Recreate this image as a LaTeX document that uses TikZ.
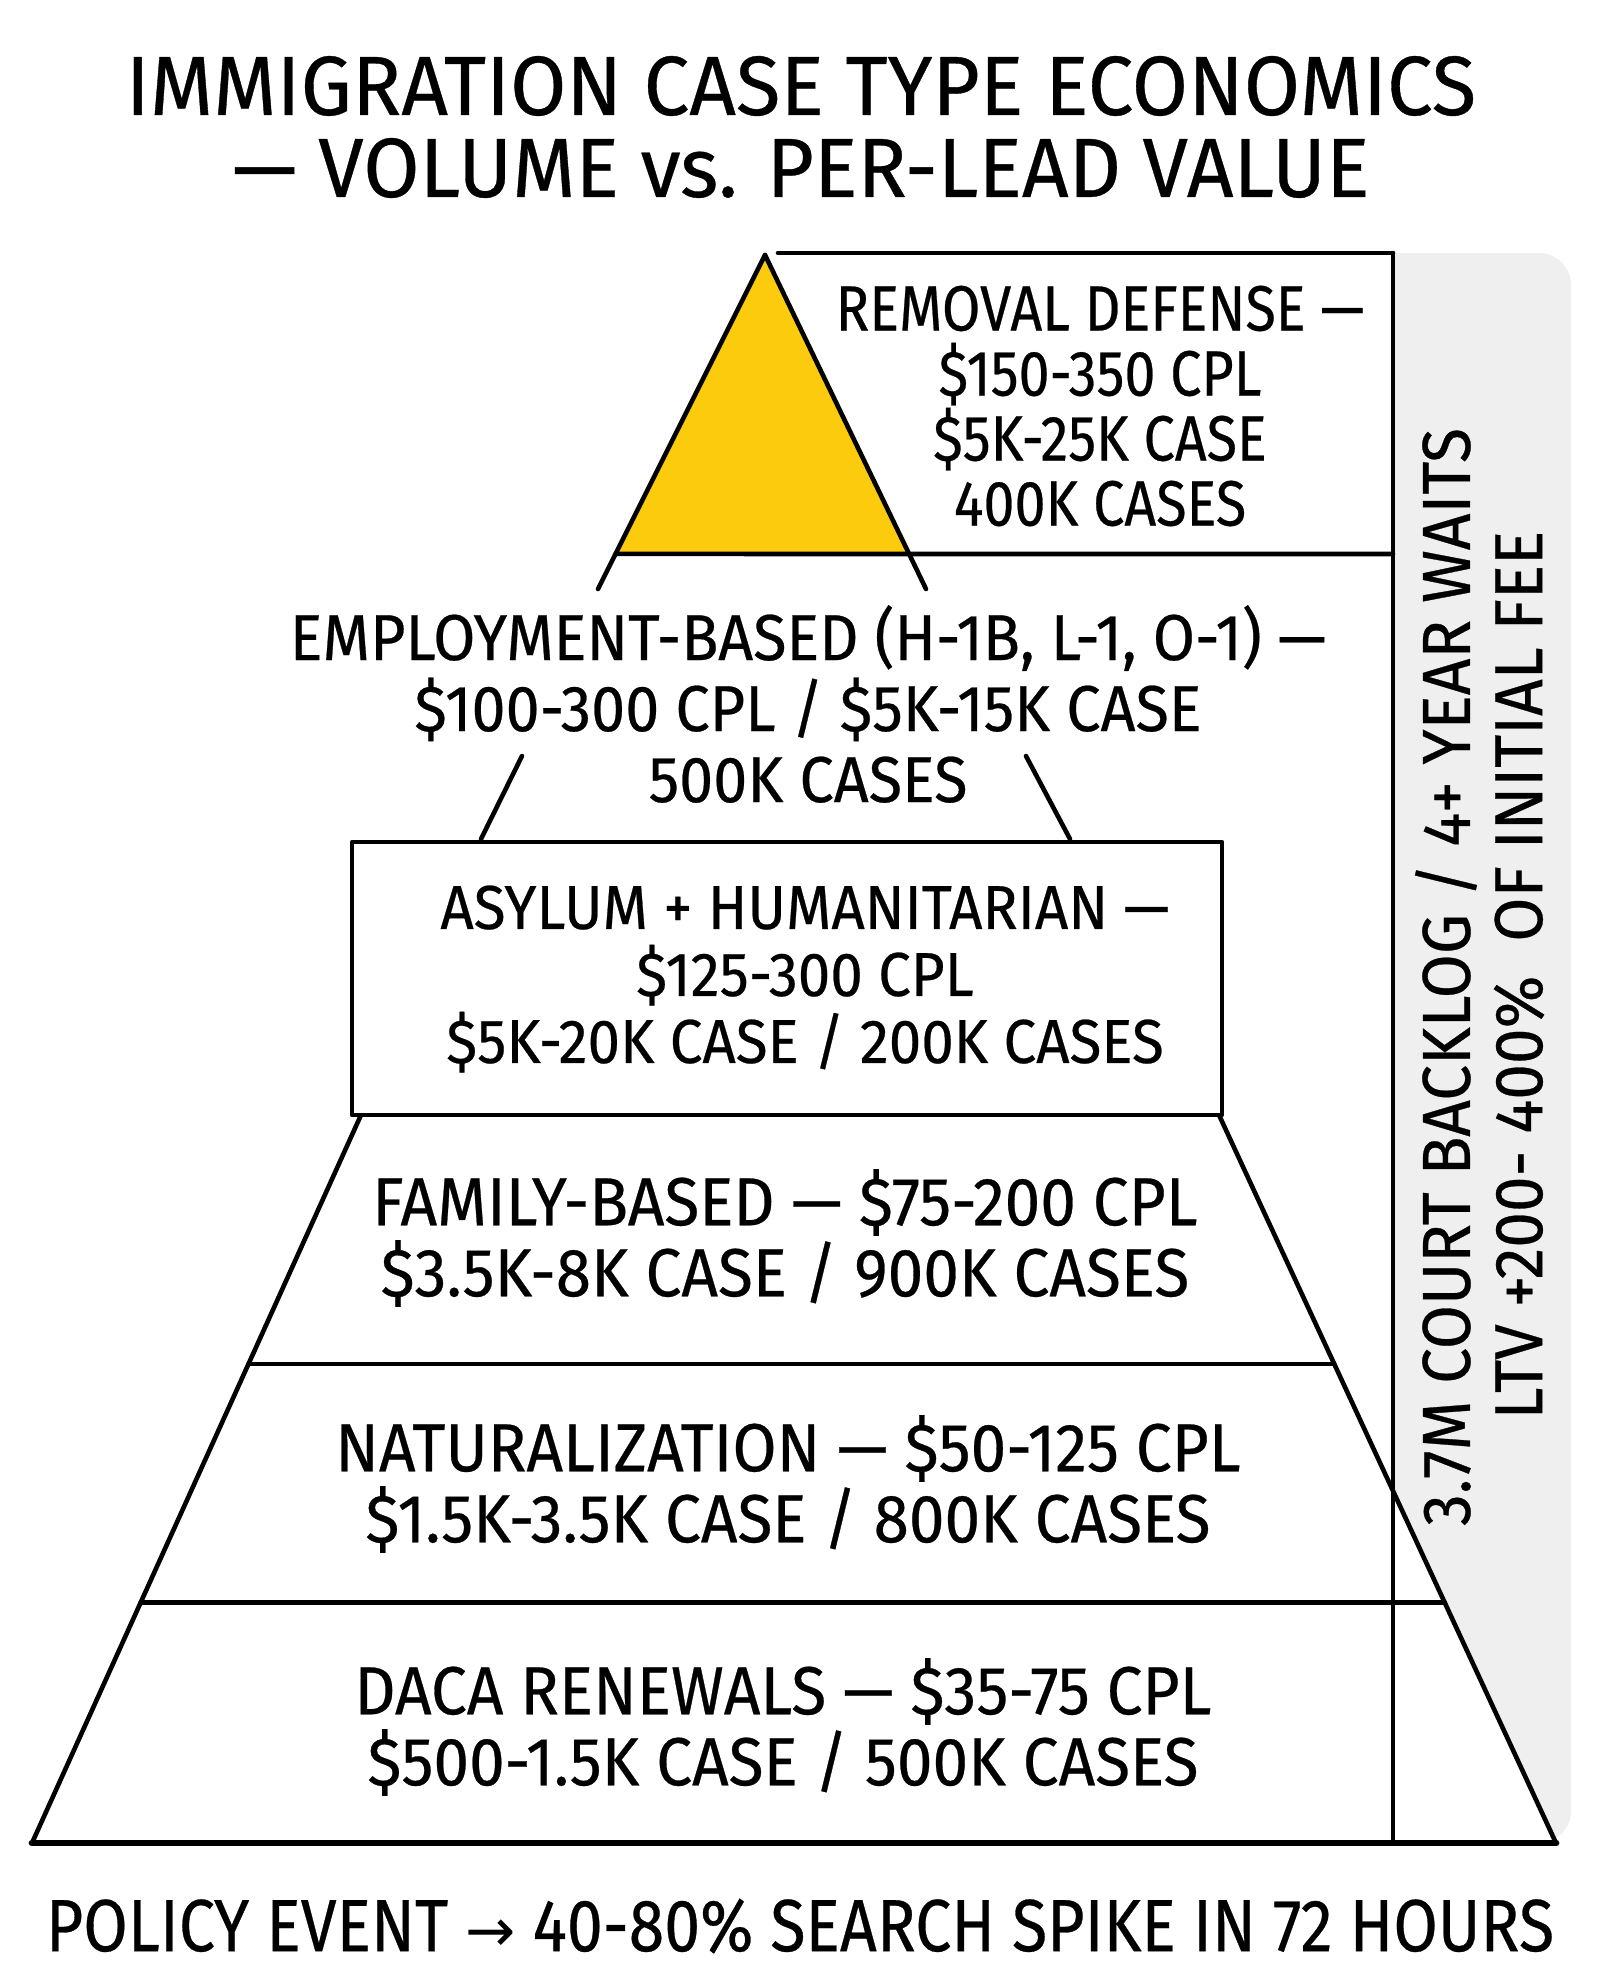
\documentclass[tikz,border=0pt]{standalone}
\usepackage{fontspec}
\newfontfamily\handfont{Fira Sans}[FakeStretch=0.94,FakeBold=0.4]
\newfontfamily\narrowfont{Fira Sans}[FakeStretch=0.87,FakeBold=0.4]
\newfontfamily\titlefont{Fira Sans}[FakeStretch=0.97,FakeBold=0.4]
\newfontfamily\symfont{DejaVu Sans}
\usetikzlibrary{positioning,calc}

\definecolor{tipyellow}{HTML}{FCCB0E}
\definecolor{sideband}{HTML}{EFEFEF}

\begin{document}
\begin{tikzpicture}[
    x=0.5pt, y=-0.5pt,
    outline/.style={
        draw,
        line width=2.3pt,
        line join=round,
        line cap=round
    },
    tiertext/.style={
        align=center,
        inner sep=0pt,
        font=\handfont\fontsize{34}{35.5}\selectfont
    },
    toptext/.style={
        tiertext,
        font=\narrowfont\fontsize{32}{32.5}\selectfont
    },
    sidetext/.style={
        inner sep=0pt,
        rotate=90,
        font=\handfont\fontsize{34}{36}\selectfont
    }
]

\useasboundingbox (0,0) rectangle (1600,1986);

%%%%%%%%%%%%%%%%%%%%%%%%%%%%%%%%%%%%%%%%%%%%%%%%%%%%
%% Coordinates
%%%%%%%%%%%%%%%%%%%%%%%%%%%%%%%%%%%%%%%%%%%%%%%%%%%%

\coordinate (apex)     at (765,255);
\coordinate (tipleft)  at (598,589);
\coordinate (tipright) at (926,589);
\coordinate (baseleft)  at ($(apex)!0.895!(tipleft)$);
\coordinate (baseright) at ($(apex)!0.895!(tipright)$);

\coordinate (boxstart) at (778,253);
\coordinate (boxtop)   at (1393,253);
\coordinate (boxbase)  at (1393,554);
\coordinate (railend)  at (1393,1843);

\coordinate (empleftup)  at (522,756);
\coordinate (empleftlow) at (481,839);
\coordinate (emprightup)  at (1026,756);
\coordinate (emprightlow) at (1070,839);

\coordinate (famtl) at (361,1115);
\coordinate (famtr) at (1219,1115);
\coordinate (basel) at (32,1843);
\coordinate (baser) at (1556,1843);

%%%%%%%%%%%%%%%%%%%%%%%%%%%%%%%%%%%%%%%%%%%%%%%%%%%%
%% Side band
%%%%%%%%%%%%%%%%%%%%%%%%%%%%%%%%%%%%%%%%%%%%%%%%%%%%

\fill[sideband] (boxtop) [rounded corners=16] -- (1571,253) -- (1571,1843)
    [sharp corners] -- (railend) -- cycle;

%%%%%%%%%%%%%%%%%%%%%%%%%%%%%%%%%%%%%%%%%%%%%%%%%%%%
%% Lower tiers
%%%%%%%%%%%%%%%%%%%%%%%%%%%%%%%%%%%%%%%%%%%%%%%%%%%%

\fill[white] (famtl) -- (basel) -- (baser) -- (famtr) -- cycle;
\draw[outline] (famtl) -- (basel);
\draw[outline] (famtr) -- (baser);
\draw[outline,line width=3.4pt] (basel) -- (baser);

\draw[outline] ($(famtl)!0.342!(basel)$) -- ($(famtr)!0.342!(baser)$);
\draw[outline] ($(famtl)!0.670!(basel)$) -- ($(famtr)!0.670!(baser)$);

\draw[outline,fill=white] (352,842) rectangle (1222,1115);

\draw[outline] (boxtop) -- (railend);

%%%%%%%%%%%%%%%%%%%%%%%%%%%%%%%%%%%%%%%%%%%%%%%%%%%%
%% Tip
%%%%%%%%%%%%%%%%%%%%%%%%%%%%%%%%%%%%%%%%%%%%%%%%%%%%

\fill[tipyellow] (apex) -- (baseleft) -- (baseright) -- cycle;
\draw[outline] (apex) -- (tipleft);
\draw[outline] (apex) -- (tipright);
\draw[outline] (baseleft) -- (boxbase);
\draw[outline] (boxstart) -- (boxtop);

\draw[outline] (empleftup) -- (empleftlow);
\draw[outline] (emprightup) -- (emprightlow);

%%%%%%%%%%%%%%%%%%%%%%%%%%%%%%%%%%%%%%%%%%%%%%%%%%%%
%% Texts
%%%%%%%%%%%%%%%%%%%%%%%%%%%%%%%%%%%%%%%%%%%%%%%%%%%%

\node[
    align=center,
    inner sep=0pt,
    font=\titlefont\fontsize{42}{41}\selectfont
] (title) at (801,127)
{IMMIGRATION CASE TYPE ECONOMICS\\— VOLUME vs. PER-LEAD VALUE};

\node[toptext] (removal) at (1100,406)
{REMOVAL DEFENSE —\\\$150-350 CPL\\\$5K-25K CASE\\400K CASES};

\node[
    tiertext,
    font=\handfont\fontsize{32.5}{35.5}\selectfont
] (employment) at (808,704)
{EMPLOYMENT-BASED (H-1B, L-1, O-1) —\\\$100-300 CPL / \$5K-15K CASE\\500K CASES};

\node[
    tiertext,
    font=\handfont\fontsize{31}{33.5}\selectfont
] (asylum) at (805,979)
{ASYLUM + HUMANITARIAN —\\\$125-300 CPL\\\$5K-20K CASE / 200K CASES};

\node[tiertext] (family) at (785,1238)
{FAMILY-BASED — \$75-200 CPL\\\$3.5K-8K CASE / 900K CASES};

\node[tiertext] (natural) at (788,1484)
{NATURALIZATION — \$50-125 CPL\\\$1.5K-3.5K CASE / 800K CASES};

\node[tiertext] (daca) at (783,1727)
{DACA RENEWALS — \$35-75 CPL\\\$500-1.5K CASE / 500K CASES};

\node[sidetext] (backlog) at (1446,977)
{3.7M COURT BACKLOG / 4+ YEAR WAITS};

\node[sidetext] (ltv) at (1519,975)
{LTV +200- 400\%\ \ OF INITIAL FEE};

\node[
    inner sep=0pt,
    font=\narrowfont\fontsize{37}{40}\selectfont
] (policy) at (800,1926)
{POLICY EVENT {\symfont\fontsize{30}{30}\selectfont→} 40-80\% SEARCH SPIKE IN 72 HOURS};

\end{tikzpicture}
\end{document}
